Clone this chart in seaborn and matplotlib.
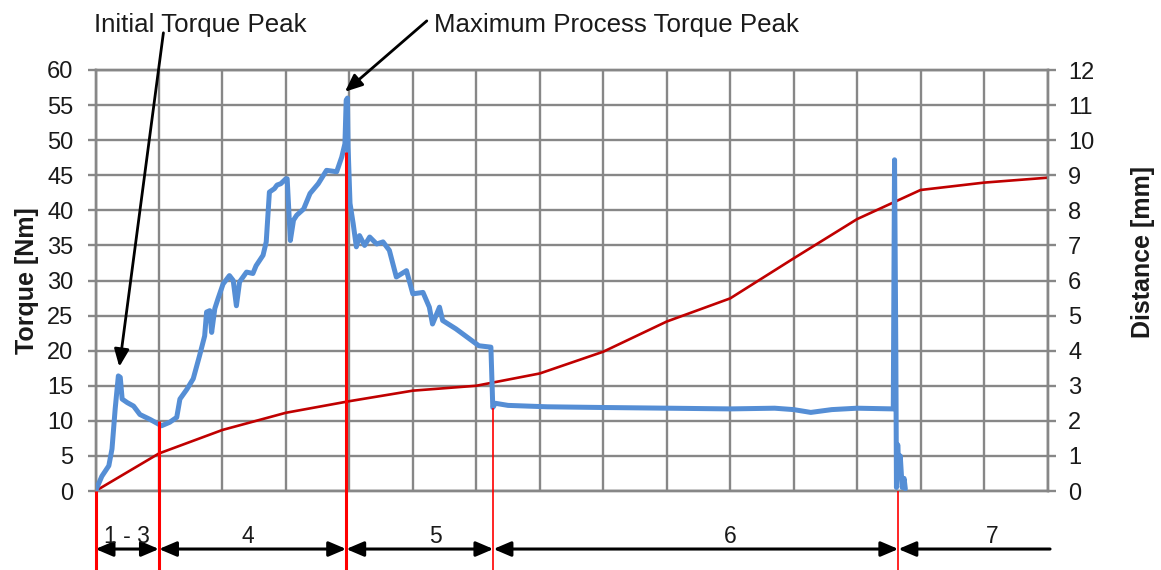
import matplotlib
matplotlib.use("Agg")
import matplotlib.pyplot as plt
import seaborn as sns
import numpy as np

# ---------------- data ----------------
torque_time = [0.00, 0.10, 0.21, 0.26, 0.31, 0.36, 0.39, 0.42, 0.50, 0.60, 0.70, 0.86,
               1.04, 1.17, 1.28, 1.33, 1.44, 1.54, 1.64, 1.72, 1.75, 1.80, 1.83, 1.88,
               1.93, 2.01, 2.11, 2.17, 2.22, 2.27, 2.38, 2.48, 2.53, 2.64, 2.69, 2.74,
               2.82, 2.86, 2.92, 3.00, 3.02, 3.07, 3.12, 3.17, 3.28, 3.38, 3.51, 3.64,
               3.80, 3.88, 3.93, 3.95, 3.97, 3.98, 4.01, 4.06, 4.11, 4.16, 4.24, 4.32,
               4.43, 4.53, 4.63, 4.74, 4.90, 5.00, 5.16, 5.26, 5.31, 5.42, 5.47, 5.68,
               5.89, 6.04, 6.23, 6.26, 6.30, 6.50, 7.12, 8.00, 9.03, 10.00, 10.70, 11.00,
               11.27, 11.60, 12.00, 12.57, 12.59, 12.61, 12.62, 12.64, 12.66, 12.68,
               12.71, 12.74, 12.76]
torque_nm = [0.0, 2.1, 3.6, 6.0, 11.7, 16.4, 16.2, 13.1, 12.6, 12.1, 10.9, 10.2,
             9.3, 9.8, 10.5, 13.1, 14.5, 16.0, 19.3, 22.1, 25.5, 25.7, 22.6, 26.0,
             27.4, 29.5, 30.7, 30.0, 26.4, 29.8, 31.2, 31.0, 32.1, 33.6, 35.5, 42.6,
             43.1, 43.6, 43.8, 44.5, 44.5, 35.7, 38.6, 39.3, 40.2, 42.4, 43.8, 45.7,
             45.5, 47.6, 49.5, 55.7, 56.0, 49.0, 41.0, 38.1, 34.8, 36.4, 35.0, 36.2,
             35.2, 35.5, 34.3, 30.5, 31.4, 28.1, 28.3, 26.2, 23.8, 26.2, 24.3, 23.1,
             21.7, 20.7, 20.5, 11.9, 12.5, 12.2, 12.0, 11.9, 11.8, 11.7, 11.8, 11.6,
             11.2, 11.6, 11.8, 11.7, 47.2, 20.0, 0.5, 6.6, 3.0, 5.0,
             0.5, 1.8, 0.3]

dist_time = list(range(16))
distance_mm = [0.0, 1.07, 1.74, 2.23, 2.56, 2.86, 3.00, 3.35, 3.97, 4.83,
               5.49, 6.63, 7.75, 8.58, 8.79, 8.93]

phase_bounds = [0, 1, 3.95, 6.27, 12.65]
phase_bound_tops = [0, 10, 48.3, 11.9, 0]
phase_end = 15.04
phase_labels = ["1 - 3", "4", "5", "6", "7"]
phase_label_x = [0.5, 2.4, 5.35, 10.0, 14.13]

torque_ticks = list(range(0, 61, 5))
distance_ticks = list(range(0, 13))
time_grid = list(range(16))

# ---------------- style ----------------
sns.set_style("white")
plt.rcParams['font.family'] = ['Liberation Sans', 'DejaVu Sans']

GRID = '#878787'
BLUE = '#558ED5'
DARKRED = '#C00000'
RED = '#FF0000'
TXT = '#1a1a1a'

W, H = 1161, 570
L, R, T, B = 95.5, 1047.5, 70, 491
fig = plt.figure(figsize=(W / 100, H / 100), dpi=100)
ax2 = fig.add_axes([L / W, 1 - B / H, (R - L) / W, (B - T) / H])
ax = ax2.twinx()          # torque axis drawn on top
ax.yaxis.tick_left()
ax.yaxis.set_label_position('left')
ax2.yaxis.tick_right()
ax2.yaxis.set_label_position('right')

# distance (bottom layer, carries the grid)
sns.lineplot(x=dist_time, y=distance_mm, ax=ax2, color=DARKRED, lw=1.9,
             estimator=None, sort=False, zorder=3)
# torque
sns.lineplot(x=torque_time, y=torque_nm, ax=ax, color=BLUE, lw=3.6,
             estimator=None, sort=False, zorder=4)

ax.set_xlim(0, 15)
ax2.set_xlim(0, 15)
ax.set_ylim(0, 60)
ax2.set_ylim(0, 12)

ax2.set_xticks(time_grid)
ax2.set_yticks(distance_ticks)
ax.set_yticks(torque_ticks)
ax2.set_axisbelow(True)
ax2.grid(True, color=GRID, lw=1.7)
ax.grid(False)
ax2.tick_params(axis='x', length=0, labelbottom=False)
ax.tick_params(axis='x', length=0, labelbottom=False)
ax.set_xlabel('')
ax2.set_xlabel('')

ax.tick_params(axis='y', direction='out', length=5.8, width=1.7, color=GRID,
               labelsize=17, labelcolor=TXT, pad=10, left=True, right=False,
               labelleft=True, labelright=False)
ax2.tick_params(axis='y', direction='out', length=5.8, width=1.7, color=GRID,
                labelsize=17, labelcolor=TXT, pad=9, right=True, left=False,
                labelright=True, labelleft=False)
for a in (ax, ax2):
    for s in a.spines.values():
        s.set_color(GRID)
        s.set_linewidth(1.7)

ax.set_ylabel('Torque [Nm]', fontsize=18, fontweight='bold', color=TXT)
ax.yaxis.set_label_coords((27 - L) / (R - L), 0.5)
ax.yaxis.label.set_va('center')
ax2.set_ylabel('Distance [mm]', fontsize=18, fontweight='bold', color=TXT,
               rotation=90)
ax2.yaxis.set_label_coords((1143 - L) / (R - L), (B - 252) / (B - T))
ax2.yaxis.label.set_va('center')

# phase boundaries
widths = [2.2, 2.2, 2.2, 1.2, 1.2]
ax.vlines(phase_bounds, ymin=-12, ymax=phase_bound_tops, colors=RED,
          linewidths=widths, clip_on=False, zorder=6)

y_arrow = -8.27
y_lab = -7.45
bounds_ext = phase_bounds + [phase_end]
for i, lab in enumerate(phase_labels):
    left, right = bounds_ext[i], bounds_ext[i + 1]
    style = '<|-|>,head_length=0.75,head_width=0.32' if i < len(phase_labels) - 1 \
        else '<|-,head_length=0.75,head_width=0.32'
    ax.annotate('', xy=(right, y_arrow), xytext=(left, y_arrow),
                arrowprops=dict(arrowstyle=style, color='black', lw=2.2,
                                shrinkA=0, shrinkB=0, mutation_scale=14),
                annotation_clip=False)
    ax.text(phase_label_x[i], y_lab, lab, ha='center', va='baseline',
            fontsize=16.5, color=TXT, clip_on=False)

# peak annotations (tips derived from data)
tt = np.array(torque_time)
tq = np.array(torque_nm)
m1 = tt < phase_bounds[1]
i1 = np.argmax(np.where(m1, tq, -1))
m2 = (tt >= phase_bounds[1]) & (tt < phase_bounds[3])
i2 = np.argmax(np.where(m2, tq, -1))

arrow_kw = dict(arrowstyle='-|>,head_length=0.75,head_width=0.32', color='black',
                lw=2.0, shrinkA=0, shrinkB=0, mutation_scale=14)
ax.text(-0.03, 65.45, 'Initial Torque Peak', fontsize=18.6, ha='left',
        va='baseline', color=TXT, clip_on=False)
ax.annotate('', xy=(tt[i1] + 0.015, tq[i1] + 1.3), xytext=(1.07, 65.3),
            arrowprops=arrow_kw, annotation_clip=False)
ax.text(5.33, 65.45, 'Maximum Process Torque Peak', fontsize=18.6, ha='left',
        va='baseline', color=TXT, clip_on=False)
ax.annotate('', xy=(tt[i2] - 0.04, tq[i2] + 0.9), xytext=(5.22, 67.0),
            arrowprops=arrow_kw, annotation_clip=False)

fig.savefig('out.png', dpi=100)
